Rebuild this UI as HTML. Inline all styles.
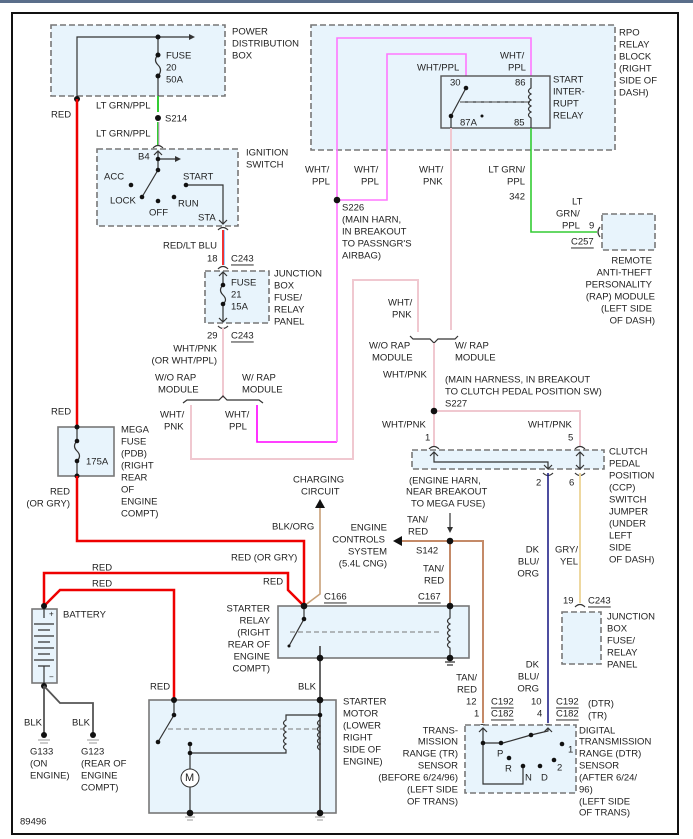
<!DOCTYPE html>
<html><head><meta charset="utf-8"><style>
html,body{margin:0;padding:0;background:#fff;}
svg{display:block;}
text{font-family:"Liberation Sans",sans-serif;font-size:9.5px;fill:#222;dominant-baseline:central;}
.r{text-anchor:end;}
.u{text-decoration:underline;}
.box{fill:#e8f4fc;stroke:#777;stroke-width:1.6;stroke-dasharray:6,3;}
.sb{fill:#e8f4fc;stroke:#777;stroke-width:1.6;}
.w{fill:none;stroke:#333;stroke-width:1.2;}
.dot{fill:#111;}
</style></head><body>
<svg width="693" height="839" viewBox="0 0 693 839">
<rect x="0" y="0" width="693" height="3" fill="#5a6e8a"/>
<rect x="12" y="13" width="666" height="821" fill="#fff" stroke="#111" stroke-width="2"/>

<!-- PDB -->
<rect class="box" x="51" y="25" width="174" height="71"/>
<path class="w" d="M77,99 V37 H193"/><path d="M195,37 l-6,-3 v6z" fill="#333"/>
<path class="w" d="M158,37 V55 q-5,5 0,10 q5,5 0,11 V96"/>
<circle class="dot" cx="158" cy="37" r="2.5"/><circle class="dot" cx="158" cy="55" r="2.5"/><circle class="dot" cx="158" cy="76" r="2.5"/>
<text x="166" y="56">FUSE</text><text x="166" y="68">20</text><text x="166" y="80">50A</text>
<text x="232" y="32">POWER</text><text x="232" y="44">DISTRIBUTION</text><text x="232" y="56">BOX</text>
<circle class="dot" cx="77" cy="99" r="3"/>
<line x1="77" y1="99" x2="77" y2="427" stroke="#e00" stroke-width="2.5"/>
<text x="51" y="115">RED</text><text x="51" y="412">RED</text>
<line x1="158" y1="96" x2="158" y2="112" stroke="#3c3" stroke-width="2"/>
<text x="96" y="106">LT GRN/PPL</text>
<circle class="dot" cx="158" cy="118" r="3"/><text x="165" y="119">S214</text>
<text x="96" y="134">LT GRN/PPL</text>
<line x1="158" y1="122" x2="158" y2="145" stroke="#3c3" stroke-width="2"/>
<line x1="159" y1="122" x2="159" y2="145" stroke="#d9d" stroke-width="1"/>
<path class="w" d="M153,148 q5,-5 10,0"/>

<!-- Ignition -->
<rect class="box" x="97" y="149" width="141" height="77"/>
<path class="w" d="M158,152 V170 M158,159 H178 M158,170 L142,197 M186,185 H223 V224"/>
<path d="M181,159 l-6,-3 v6z" fill="#333"/>
<path class="w" d="M154,155 l4,-4 4,4 M219,220 l4,4 4,-4"/>
<circle class="dot" cx="158" cy="159" r="2.3"/><circle class="dot" cx="158" cy="170" r="2.3"/>
<circle class="dot" cx="131" cy="185" r="2.3"/><circle class="dot" cx="142" cy="197" r="2.3"/>
<circle class="dot" cx="158" cy="201" r="2.3"/><circle class="dot" cx="174" cy="197" r="2.3"/><circle class="dot" cx="186" cy="185" r="2.3"/>
<text x="138" y="157">B4</text><text x="104" y="177">ACC</text><text x="110" y="201">LOCK</text><text x="149" y="213">OFF</text>
<text x="178" y="204">RUN</text><text x="183" y="177">START</text><text x="198" y="218">STA</text>
<text x="246" y="153">IGNITION</text><text x="246" y="165">SWITCH</text>
<path class="w" d="M218,230 q5,-5 10,0"/>
<line x1="223" y1="230" x2="223" y2="265" stroke="#e33" stroke-width="2"/>
<line x1="224.5" y1="230" x2="224.5" y2="265" stroke="#9cf" stroke-width="1"/>
<text class="r" x="217" y="246">RED/LT BLU</text>
<text x="207" y="259">18</text><text class="u" x="231" y="259">C243</text>
<path class="w" d="M218,269 q5,-5 10,0"/>

<!-- Junction box -->
<rect class="box" x="205" y="271" width="64" height="52"/>
<path class="w" d="M223,272 V285 q-5,5 0,10 q5,5 0,9 V322 M219,276 l4,-4 4,4 M219,318 l4,4 4,-4"/>
<circle class="dot" cx="223" cy="285" r="2.3"/><circle class="dot" cx="223" cy="304" r="2.3"/>
<text x="231" y="283">FUSE</text><text x="231" y="295">21</text><text x="231" y="307">15A</text>
<text x="274" y="274">JUNCTION</text><text x="274" y="286">BOX</text><text x="274" y="298">FUSE/</text><text x="274" y="310">RELAY</text><text x="274" y="322">PANEL</text>
<path class="w" d="M218,326 q5,5 10,0"/>
<text x="207" y="336">29</text><text class="u" x="231" y="336">C243</text>
<line x1="223" y1="328" x2="223" y2="398" stroke="#f0c8d0" stroke-width="2"/>
<text class="r" x="217" y="349">WHT/PNK</text><text class="r" x="217" y="361">(OR WHT/PPL)</text>
<text x="155" y="378">W/O RAP</text><text x="158" y="390">MODULE</text>
<text x="242" y="378">W/ RAP</text><text x="242" y="390">MODULE</text>
<path class="w" d="M183,403 l4,-3 H219 l4,-4 4,4 H259 l4,3"/>
<text x="160" y="415">WHT/</text><text x="164" y="427">PNK</text>
<text x="225" y="415">WHT/</text><text x="229" y="427">PPL</text>
<path d="M191,405 V459 H353 V280 H418 V332" fill="none" stroke="#f0c8d0" stroke-width="2"/>
<path d="M257,405 V442 H337" fill="none" stroke="#f0f" stroke-width="1.6"/>

<!-- RPO block -->
<rect class="box" x="311" y="25" width="304" height="125"/>
<path d="M337,442 V38 H531 V78" fill="none" stroke="#f7f" stroke-width="1.6"/>
<path d="M337,200 H387 V54 H466 V88" fill="none" stroke="#f7f" stroke-width="1.6"/>
<circle class="dot" cx="337" cy="200" r="3.3"/>
<rect x="441" y="76" width="109" height="52" fill="#e8f4fc" stroke="#555" stroke-width="1.4"/>
<path class="w" d="M466,88 L451,116 V128 M460,102 H530" />
<path d="M460,102 H530" stroke="#777" stroke-dasharray="5,3" fill="none"/>
<path class="w" d="M531,78 V88 q-5,3 0,6 q-5,3 0,6 q-5,3 0,6 q-5,3 0,6 q-5,3 0,6 V128"/>
<circle class="dot" cx="466" cy="88" r="2.3"/><circle class="dot" cx="451" cy="116" r="2.3"/><circle cx="482" cy="116" r="1.5" class="dot"/>
<text x="450" y="83">30</text><text x="515" y="83">86</text><text x="460" y="123">87A</text><text x="514" y="123">85</text>
<text x="417" y="68">WHT/PPL</text><text x="500" y="56">WHT/</text><text x="508" y="68">PPL</text>
<text x="553" y="80">START</text><text x="553" y="92">INTER-</text><text x="553" y="104">RUPT</text><text x="553" y="116">RELAY</text>
<text x="619" y="33">RPO</text><text x="619" y="45">RELAY</text><text x="619" y="57">BLOCK</text><text x="619" y="69">(RIGHT</text><text x="619" y="81">SIDE OF</text><text x="619" y="93">DASH)</text>
<line x1="451" y1="128" x2="451" y2="330" stroke="#f0c8d0" stroke-width="2"/>
<path d="M531,128 V232 H597" fill="none" stroke="#3c3" stroke-width="1.6"/>
<text x="305" y="170">WHT/</text><text x="312" y="182">PPL</text>
<text x="354" y="170">WHT/</text><text x="361" y="182">PPL</text>
<text x="419" y="170">WHT/</text><text x="423" y="182">PNK</text>
<text class="r" x="525" y="170">LT GRN/</text><text class="r" x="525" y="182">PPL</text><text class="r" x="525" y="197">342</text>
<text x="342" y="208">S226</text><text x="342" y="220">(MAIN HARN,</text><text x="342" y="232">IN BREAKOUT</text><text x="342" y="244">TO PASSNGR'S</text><text x="342" y="256">AIRBAG)</text>
<text x="572" y="202">LT</text><text x="556" y="214">GRN/</text><text x="562" y="226">PPL</text><text x="589" y="226">9</text>
<text class="u" x="571" y="242">C257</text>
<path class="w" d="M600,227 q-4,5 0,10"/>
<rect class="box" x="602" y="214" width="53" height="36"/>
<text class="r" x="652" y="261">REMOTE</text><text class="r" x="652" y="273">ANTI-THEFT</text><text class="r" x="652" y="285">PERSONALITY</text><text class="r" x="655" y="297">(RAP) MODULE</text><text class="r" x="652" y="309">(LEFT SIDE</text><text class="r" x="655" y="321">OF DASH)</text>
<text x="388" y="303">WHT/</text><text x="392" y="315">PNK</text>
<path class="w" d="M410,336 l3,3 H430 l4,4 4,-4 H455 l3,-3"/>
<text x="369" y="346">W/O RAP</text><text x="372" y="358">MODULE</text>
<text x="455" y="346">W/ RAP</text><text x="455" y="358">MODULE</text>
<text x="383" y="375">WHT/PNK</text>
<text x="445" y="380">(MAIN HARNESS, IN BREAKOUT</text><text x="445" y="392">TO CLUTCH PEDAL POSITION SW)</text><text x="445" y="404">S227</text>
<path d="M434,343 V446 M434,411 H580 V446" fill="none" stroke="#f0c8d0" stroke-width="2"/>
<circle class="dot" cx="434" cy="411" r="3.3"/>
<text x="382" y="425">WHT/PNK</text><text x="528" y="425">WHT/PNK</text>
<text x="425" y="438">1</text><text x="568" y="438">5</text>
<path class="w" d="M429,449 q5,-5 10,0 M575,449 q5,-5 10,0"/>

<!-- CCP -->
<rect class="box" x="412" y="450" width="192" height="19"/>
<path class="w" d="M434,452 V462 H548 V468 M430,456 l4,-4 4,4 M544,465 l4,4 4,-4 M580,452 V468 M576,456 l4,-4 4,4 M576,465 l4,4 4,-4"/>
<text x="609" y="452">CLUTCH</text><text x="609" y="464">PEDAL</text><text x="609" y="476">POSITION</text><text x="609" y="488">(CCP)</text><text x="609" y="500">SWITCH</text><text x="609" y="512">JUMPER</text><text x="609" y="524">(UNDER</text><text x="609" y="536">LEFT</text><text x="609" y="548">SIDE</text><text x="609" y="560">OF DASH)</text>
<path class="w" d="M543,473 q5,5 10,0 M575,473 q5,5 10,0"/>
<text x="536" y="483">2</text><text x="569" y="483">6</text>
<line x1="548" y1="473" x2="548" y2="723" stroke="#228" stroke-width="1.6"/>
<line x1="580" y1="473" x2="580" y2="603" stroke="#eed8a0" stroke-width="2"/>
<text class="r" x="539" y="550">DK</text><text class="r" x="539" y="562">BLU/</text><text class="r" x="539" y="574">ORG</text>
<text class="r" x="578" y="550">GRY/</text><text class="r" x="578" y="562">YEL</text>
<text x="409" y="481">(ENGINE HARN,</text><text x="406" y="492">NEAR BREAKOUT</text><text x="411" y="504">TO MEGA FUSE)</text>
<path class="w" d="M450,513 V530"/><path d="M450,533 l-3,-6 h6z" fill="#333"/>
<path d="M450,541 H483 V723 M450,541 H400 M450,541 V606" fill="none" stroke="#c48a68" stroke-width="2"/>
<path d="M393,541 l9,-5 v10z" fill="#111"/>
<circle class="dot" cx="450" cy="541" r="3.3"/>
<text x="407" y="520">TAN/</text><text x="408" y="532">RED</text>
<text class="r" x="387" y="528">ENGINE</text><text class="r" x="385" y="540">CONTROLS</text><text class="r" x="387" y="552">SYSTEM</text><text class="r" x="387" y="564">(5.4L CNG)</text>
<text x="416" y="551">S142</text><text x="423" y="569">TAN/</text><text x="424" y="581">RED</text>
<text class="u" x="418" y="597">C167</text><text class="u" x="324" y="597">C166</text>

<!-- Junction box bottom right -->
<text x="563" y="601">19</text><text class="u" x="588" y="601">C243</text>
<path class="w" d="M575,607 q5,-5 10,0"/>
<rect class="box" x="562" y="612" width="39" height="52"/>
<text x="607" y="617">JUNCTION</text><text x="607" y="629">BOX</text><text x="607" y="641">FUSE/</text><text x="607" y="653">RELAY</text><text x="607" y="665">PANEL</text>

<!-- Mega fuse -->
<rect class="sb" x="58" y="427" width="56" height="49"/>
<path class="w" d="M77,427 V441 q-5,5 0,10 q5,5 0,10 V476"/>
<circle class="dot" cx="77" cy="427" r="2.5"/><circle class="dot" cx="77" cy="441" r="2.3"/><circle class="dot" cx="77" cy="461" r="2.3"/><circle class="dot" cx="77" cy="476" r="2.5"/>
<text x="86" y="462">175A</text>
<text x="121" y="430">MEGA</text><text x="121" y="442">FUSE</text><text x="121" y="454">(PDB)</text><text x="121" y="466">(RIGHT</text><text x="121" y="478">REAR</text><text x="121" y="490">OF</text><text x="121" y="502">ENGINE</text><text x="121" y="514">COMPT)</text>
<text class="r" x="70" y="492">RED</text><text class="r" x="70" y="504">(OR GRY)</text>

<!-- Charging -->
<text x="293" y="480">CHARGING</text><text x="301" y="492">CIRCUIT</text>
<path d="M320,499 l-5,9 h10z" fill="#111"/>
<path d="M320,508 V594 L304,606" fill="none" stroke="#c8a078" stroke-width="1.6"/>
<text x="272" y="527">BLK/ORG</text>
<text x="231" y="558">RED (OR GRY)</text><text x="263" y="582">RED</text>
<text x="92" y="568">RED</text><text x="92" y="584">RED</text><text x="150" y="687">RED</text>
<path d="M77,476 V541 H304 V606 M44,606 V573 H288 V590 L304,606 M44,606 L60,590 H174 V700" fill="none" stroke="#e00" stroke-width="2.5"/>

<!-- Starter relay -->
<rect class="sb" x="278" y="606" width="191" height="52"/>
<path class="w" d="M304,606 V619 L289,646 M450,606 V618 q-5,3 0,6 q-5,3 0,6 q-5,3 0,6 q-5,3 0,6 q-5,3 0,6 V658"/>
<path d="M290,632 H440" stroke="#777" stroke-dasharray="5,3"/>
<path d="M320,646 V700 M320,700 V813" stroke="#555" stroke-width="1.8"/>
<circle class="dot" cx="304" cy="606" r="3.3"/><circle class="dot" cx="304" cy="619" r="2.3"/><circle class="dot" cx="289" cy="646" r="1.5"/>
<circle class="dot" cx="320" cy="658" r="3.3"/><circle class="dot" cx="450" cy="606" r="3.3"/><circle class="dot" cx="450" cy="658" r="3.3"/>
<path class="w" d="M445,662 h10 M447,665 h6" stroke="#999"/>
<text class="r" x="270" y="609">STARTER</text><text class="r" x="270" y="621">RELAY</text><text class="r" x="270" y="633">(RIGHT</text><text class="r" x="270" y="645">REAR OF</text><text class="r" x="270" y="657">ENGINE</text><text class="r" x="270" y="669">COMPT)</text>
<text x="298" y="687">BLK</text>

<!-- Battery -->
<rect class="sb" x="32" y="609" width="25" height="74"/>
<path class="w" d="M44,606 V618 M34,624 h20 M38,630 h12 M34,636 h20 M38,642 h12 M34,648 h20 M38,654 h12 M34,660 h20 M38,666 h12 M44,666 V686"/>
<text x="49" y="614" style="font-size:8px">+</text><text x="49" y="677" style="font-size:8px">−</text>
<circle class="dot" cx="44" cy="606" r="3"/><circle class="dot" cx="44" cy="686" r="3"/>
<text x="63" y="615">BATTERY</text>
<path d="M44,686 V735 M44,686 L60,703 H93 V735" fill="none" stroke="#555" stroke-width="1.8"/>
<text x="24" y="723">BLK</text><text x="72" y="723">BLK</text>
<circle class="dot" cx="44" cy="735" r="3"/><circle class="dot" cx="93" cy="735" r="3"/>
<path d="M38,740 h12 M40,743 h8 M87,740 h12 M89,743 h8" stroke="#999"/>
<text x="30" y="752">G133</text><text x="30" y="764">(ON</text><text x="30" y="776">ENGINE)</text>
<text x="81" y="752">G123</text><text x="81" y="764">(REAR OF</text><text x="81" y="776">ENGINE</text><text x="81" y="788">COMPT)</text>

<!-- Starter motor -->
<rect class="sb" x="149" y="700" width="187" height="113"/>
<path d="M320,700 V813" stroke="#555" stroke-width="1.8"/>
<path class="w" d="M174,700 V715 L158,742 M320,715 H286 V720 q-5,3 0,6 q-5,3 0,6 q-5,3 0,6 q-5,3 0,6 q-5,3 0,6 V753 H190 V744 M320,720 q-5,3 0,6 q-5,3 0,6 q-5,3 0,6 q-5,3 0,6 q-5,3 0,6 M190,753 V769 M190,787 V813"/>
<path d="M168,729 H318" stroke="#777" stroke-dasharray="5,3"/>
<circle cx="190" cy="778" r="9" fill="#fff" stroke="#333"/>
<text x="185" y="778" style="font-size:11px">M</text>
<circle class="dot" cx="174" cy="700" r="3"/><circle class="dot" cx="174" cy="715" r="2.3"/><circle class="dot" cx="158" cy="742" r="2.3"/>
<circle class="dot" cx="320" cy="700" r="3.3"/><circle class="dot" cx="320" cy="715" r="2.3"/><circle class="dot" cx="320" cy="813" r="3.3"/>
<circle class="dot" cx="190" cy="744" r="2.3"/><circle class="dot" cx="190" cy="753" r="2.3"/><circle class="dot" cx="190" cy="813" r="3.3"/>
<path d="M185,817 h10 M187,820 h6 M315,817 h10 M317,820 h6" stroke="#999"/>
<text x="343" y="702">STARTER</text><text x="343" y="714">MOTOR</text><text x="343" y="726">(LOWER</text><text x="343" y="738">RIGHT</text><text x="343" y="750">SIDE OF</text><text x="343" y="762">ENGINE)</text>
<text x="20" y="822">89496</text>

<!-- TR sensor -->
<text class="r" x="477" y="678">TAN/</text><text class="r" x="477" y="690">RED</text>
<text class="r" x="539" y="665">DK</text><text class="r" x="539" y="677">BLU/</text><text class="r" x="539" y="689">ORG</text>
<text x="466" y="702">12</text><text x="474" y="714">1</text><text class="u" x="491" y="702">C192</text><text class="u" x="491" y="714">C182</text>
<text x="531" y="702">10</text><text x="537" y="714">4</text><text class="u" x="556" y="702">C192</text><text class="u" x="556" y="714">C182</text>
<text x="588" y="704">(DTR)</text><text x="588" y="716">(TR)</text>
<path class="w" d="M478,727 q5,-5 10,0 M543,727 q5,-5 10,0"/>
<rect class="box" x="465" y="725" width="111" height="68"/>
<path class="w" d="M483,728 V784 H523 V766 M483,743 H501 M548,728 V731 L531,735 L503,743 M479,732 l4,-4 4,4 M544,732 l4,-4 4,4"/>
<circle class="dot" cx="483" cy="743" r="2.3"/><circle class="dot" cx="501" cy="743" r="2.3"/><circle class="dot" cx="531" cy="735" r="2.3"/>
<circle class="dot" cx="509" cy="758" r="2.3"/><circle class="dot" cx="523" cy="766" r="2.3"/><circle class="dot" cx="540" cy="766" r="2.3"/>
<circle class="dot" cx="562" cy="744" r="2.3"/><circle class="dot" cx="554" cy="760" r="2.3"/>
<text x="497" y="754">P</text><text x="505" y="769">R</text><text x="525" y="778">N</text><text x="541" y="778">D</text><text x="568" y="750">1</text><text x="557" y="768">2</text>
<text class="r" x="458" y="731">TRANS-</text><text class="r" x="458" y="742">MISSION</text><text class="r" x="458" y="754">RANGE (TR)</text><text class="r" x="458" y="766">SENSOR</text><text class="r" x="458" y="778">(BEFORE 6/24/96)</text><text class="r" x="458" y="790">(LEFT SIDE</text><text class="r" x="458" y="802">OF TRANS)</text>
<text x="579" y="731">DIGITAL</text><text x="579" y="742">TRANSMISSION</text><text x="579" y="754">RANGE (DTR)</text><text x="579" y="766">SENSOR</text><text x="579" y="778">(AFTER 6/24/</text><text x="579" y="790">96)</text><text x="579" y="802">(LEFT SIDE</text><text x="579" y="813">OF TRANS)</text>
</svg>
</body></html>
